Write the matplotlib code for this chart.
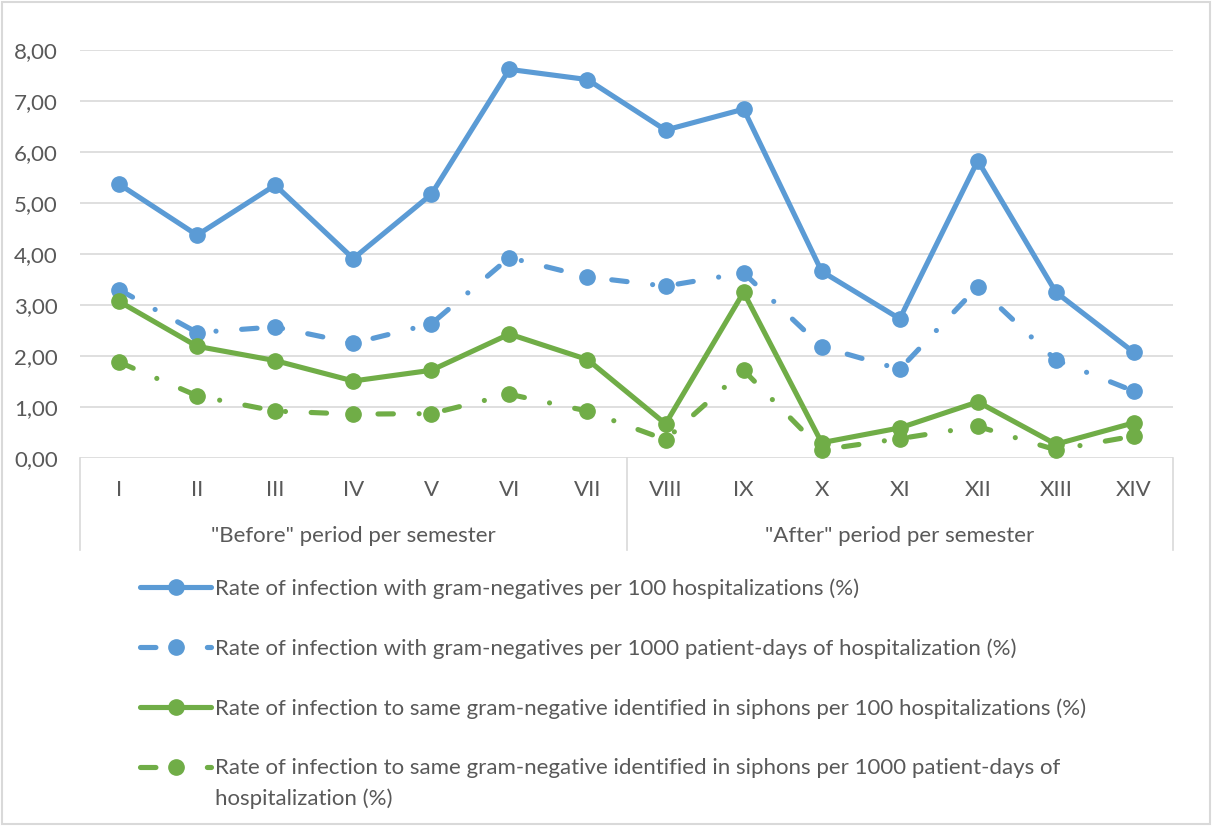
import numpy as np
import matplotlib.pyplot as plt
from matplotlib.patches import Rectangle
from matplotlib.ticker import FuncFormatter

plt.rcParams['font.family'] = ['Lato', 'DejaVu Sans']

# semesters
semesters = ['I', 'II', 'III', 'IV', 'V', 'VI', 'VII',
             'VIII', 'IX', 'X', 'XI', 'XII', 'XIII', 'XIV']
periods = ['"Before" period per semester', '"After" period per semester']

gn_100 = [5.37, 4.37, 5.35, 3.91, 5.17, 7.62, 7.42,
          6.43, 6.84, 3.66, 2.73, 5.83, 3.25, 2.07]
gn_1000 = [3.30, 2.46, 2.57, 2.25, 2.63, 3.93, 3.55,
           3.37, 3.63, 2.18, 1.74, 3.36, 1.92, 1.31]
siph_100 = [3.07, 2.19, 1.91, 1.51, 1.72, 2.43, 1.93,
            0.67, 3.25, 0.30, 0.59, 1.10, 0.27, 0.69]
siph_1000 = [1.88, 1.22, 0.92, 0.86, 0.87, 1.25, 0.92,
             0.36, 1.72, 0.16, 0.38, 0.62, 0.16, 0.43]

labels = [
    'Rate of infection with gram-negatives per 100 hospitalizations (%)',
    'Rate of infection with gram-negatives per 1000 patient-days of hospitalization (%)',
    'Rate of infection to same gram-negative identified in siphons per 100 hospitalizations (%)',
    'Rate of infection to same gram-negative identified in siphons per 1000 patient-days of',
]
label_wrap = 'hospitalization (%)'

blue = '#5B9BD5'
green = '#70AD47'
grey = '#595959'
gridc = '#D9D9D9'
dash = (3.0, 5.0, 0.01, 5.0)
fs = 16

fig = plt.figure(figsize=(12.12, 8.26), dpi=100)
ax = fig.add_axes([80/1212, 1-458/826, 1093/1212, 408/826])

x = np.arange(len(semesters))
kw = dict(lw=3.7, marker='o', ms=11, solid_capstyle='round', dash_capstyle='round')
l1, = ax.plot(x, gn_100, color=blue, **kw)
l2, = ax.plot(x, gn_1000, color=blue, dashes=dash, **kw)
l3, = ax.plot(x, siph_100, color=green, **kw)
l4, = ax.plot(x, siph_1000, color=green, dashes=dash, **kw)

ax.set_xlim(-0.5, len(semesters) - 0.5)
ax.set_ylim(0, 8)
ax.set_yticks(np.arange(0, 9, 1))
ax.yaxis.set_major_formatter(FuncFormatter(lambda v, p: f'{v:.2f}'.replace('.', ',')))
ax.set_xticks(x)
ax.set_xticklabels(semesters)
ax.tick_params(axis='both', length=0, colors=grey, labelsize=fs)
ax.tick_params(axis='y', pad=16)
ax.tick_params(axis='x', pad=16)
ax.grid(axis='y', color=gridc, lw=1.2)
ax.set_axisbelow(True)
for s in ax.spines.values():
    s.set_visible(False)

# group separators and labels
for xs in [-0.5, 6.5, 13.5]:
    ax.axvline(xs, ymin=-0.2255, ymax=0, color=gridc, lw=1.2, clip_on=False)
ax.text(3, -0.19, periods[0], transform=ax.get_xaxis_transform(),
        ha='center', va='center', color=grey, fontsize=fs)
ax.text(10, -0.19, periods[1], transform=ax.get_xaxis_transform(),
        ha='center', va='center', color=grey, fontsize=fs)

leg = fig.legend([l1, l2, l3, l4], labels, loc='upper left',
                 bbox_to_anchor=(140/1212, 1-578/826), frameon=False,
                 fontsize=fs, handlelength=3.2, handletextpad=0.18,
                 labelspacing=1.78, borderpad=0, borderaxespad=0, numpoints=1)
for t in leg.get_texts():
    t.set_color(grey)

# second line of the last legend entry
fig.canvas.draw()
bb = leg.get_texts()[3].get_window_extent()
fig.text(bb.x0 / 1212, (bb.y1 - 30) / 826, label_wrap, ha='left', va='top',
         color=grey, fontsize=fs)

fig.patches.append(Rectangle((0.002, 0.002), 0.996, 0.996, transform=fig.transFigure,
                             fill=False, edgecolor=gridc, lw=1.5))

fig.savefig('out.png', dpi=100)
